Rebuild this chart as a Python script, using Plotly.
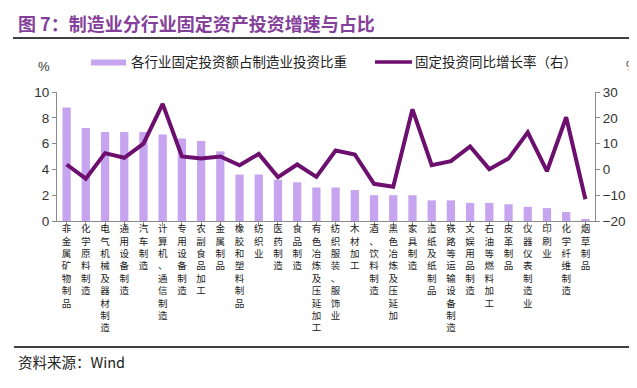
import plotly.graph_objects as go

categories = ["非金属矿物制品", "化学原料制造", "电气机械及器材制造", "通用设备制造", "汽车制造",
              "计算机、通信制造", "专用设备制造", "农副食品加工", "金属制品", "橡胶和塑料制品",
              "纺织业", "医药制造", "食品制造", "有色冶炼及压延加工", "纺织服装、服饰业",
              "木材加工", "酒、饮料制造", "黑色冶炼及压延加", "家具制造", "造纸及纸制品",
              "铁路等运输设备制造", "文娱用品制造", "石油等燃料加工", "皮革制品", "仪器仪表制造业",
              "印刷业", "化学纤维制造", "烟草制品"]
share = [8.8, 7.2, 6.9, 6.9, 6.9, 6.7, 6.4, 6.2, 5.4, 3.6,
         3.6, 3.2, 3.0, 2.6, 2.6, 2.4, 2.0, 2.0, 2.0, 1.6,
         1.6, 1.4, 1.4, 1.3, 1.1, 1.0, 0.7, 0.1]
growth = [1.9, -3.6, 6.3, 4.5, 10.0, 25.4, 5.0, 4.2, 5.0, 1.6,
          6.0, -3.0, 1.9, -2.9, 7.3, 5.8, -5.6, -6.7, 23.3, 1.6,
          3.2, 8.9, 0.1, 4.2, 14.4, -0.7, 20.2, -11.6]
left_ticks = [0, 2, 4, 6, 8, 10]
right_ticks = [-20, -10, 0, 10, 20, 30]

title_text = "图 7：制造业分行业固定资产投资增速与占比"
bar_name = "各行业固定投资额占制造业投资比重"
line_name = "固定投资同比增长率（右）"
source_text = "资料来源：Wind"

BAR_COLOR = "#C6A4EF"
LINE_COLOR = "#6C0F6E"
AXIS_COLOR = "#8A8A8A"
TEXT_COLOR = "#333333"
CJK = "Noto Sans CJK SC"
XLAB_FONT = "Liberation Sans, Noto Sans CJK SC"

W, H = 637, 388
ML, MR, MT, MB = 49, 50, 84, 175
PW, PH = W - ML - MR, H - MT - MB


def px(x):
    return (x - ML) / PW


def py(y):
    return (H - MB - y) / PH


xlabels = ["<br>".join(list(c)) for c in categories]

fig = go.Figure()
fig.add_trace(go.Bar(x=list(range(len(categories))), y=share, name=bar_name,
                     marker=dict(color=BAR_COLOR, line=dict(width=0)), width=0.43,
                     yaxis="y", showlegend=False))
fig.add_trace(go.Scatter(x=list(range(len(categories))), y=growth, name=line_name,
                         mode="lines", line=dict(color=LINE_COLOR, width=4),
                         yaxis="y2", showlegend=False))

fig.update_layout(
    width=W, height=H,
    margin=dict(l=ML, r=MR, t=MT, b=MB, pad=0),
    paper_bgcolor="white", plot_bgcolor="white",
    font=dict(family=CJK, color=TEXT_COLOR),
    bargap=0.5,
    xaxis=dict(range=[-0.5, len(categories) - 0.5], tickmode="array",
               tickvals=list(range(len(categories))), ticktext=xlabels,
               tickson="boundaries", ticks="outside", ticklen=4, tickcolor=AXIS_COLOR,
               showline=True, linecolor=AXIS_COLOR, linewidth=1, showgrid=False,
               zeroline=False, tickangle=0, ticklabelstandoff=-5,
               tickfont=dict(family=XLAB_FONT, size=9.5, color="#222222")),
    yaxis=dict(range=[0, 10], tickmode="array", tickvals=left_ticks,
               ticks="outside", ticklen=4, tickcolor=AXIS_COLOR,
               showline=True, linecolor=AXIS_COLOR, linewidth=1, showgrid=False,
               zeroline=False,
               tickfont=dict(family="Liberation Sans", size=13.5, color=TEXT_COLOR)),
    yaxis2=dict(range=[-20, 30], tickmode="array", tickvals=right_ticks,
                overlaying="y", side="right",
                ticks="outside", ticklen=4, tickcolor=AXIS_COLOR,
                showline=True, linecolor=AXIS_COLOR, linewidth=1, showgrid=False,
                zeroline=False,
                tickfont=dict(family="Liberation Sans", size=13.5, color=TEXT_COLOR)),
)

annotations = [
    dict(text="<b>" + title_text + "</b>", x=px(8), y=py(15), xanchor="left", yanchor="middle",
         font=dict(family=CJK, size=18, color="#84409A")),
    dict(text="%", x=px(36), y=py(58), xanchor="center", yanchor="middle",
         font=dict(family="Liberation Sans", size=13, color=TEXT_COLOR)),
    dict(text="%", x=px(624), y=py(57), xanchor="center", yanchor="middle",
         font=dict(family="Liberation Sans", size=13, color=TEXT_COLOR)),
    dict(text=bar_name, x=px(121), y=py(53), xanchor="left", yanchor="middle",
         font=dict(family=CJK, size=13.5, color="#222222")),
    dict(text=line_name, x=px(405), y=py(53), xanchor="left", yanchor="middle",
         font=dict(family=CJK, size=13.5, color="#222222")),
    dict(text=source_text, x=px(8), y=py(353), xanchor="left", yanchor="middle",
         font=dict(family=CJK, size=14.5, color="#222222")),
]
for a in annotations:
    a.update(xref="paper", yref="paper", showarrow=False)
fig.update_layout(annotations=annotations)

shapes = [
    dict(type="line", x0=px(5), x1=px(637), y0=py(30), y1=py(30),
         line=dict(color="black", width=1.5)),
    dict(type="line", x0=px(6), x1=px(637), y0=py(339), y1=py(339),
         line=dict(color="black", width=1.5)),
    dict(type="rect", x0=px(83), x1=px(118), y0=py(57.5), y1=py(51.5),
         fillcolor=BAR_COLOR, line=dict(width=0)),
    dict(type="line", x0=px(367), x1=px(404), y0=py(54), y1=py(54),
         line=dict(color=LINE_COLOR, width=3.5)),
]
for s in shapes:
    s.update(xref="paper", yref="paper")
fig.update_layout(shapes=shapes)

fig.write_html("out.html")
